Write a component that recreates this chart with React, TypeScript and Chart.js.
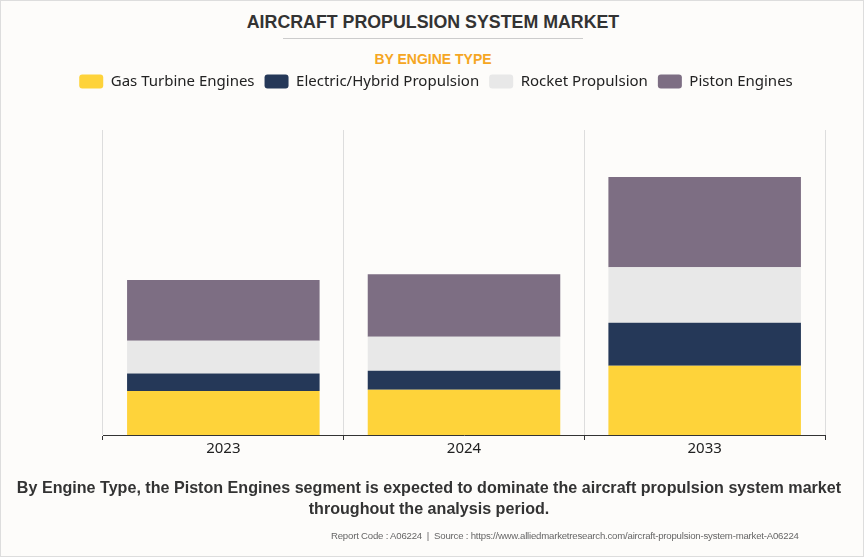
import React, { useEffect, useRef } from "react";
import { Chart, registerables } from "chart.js";

Chart.register(...registerables);

const categories = ["2023", "2024", "2033"];
const gasTurbine = [14.4, 14.8, 22.7];
const electricHybrid = [5.8, 6.3, 14.1];
const rocket = [10.7, 11.1, 18.2];
const piston = [19.9, 20.5, 29.6];

const seriesNames = ["Gas Turbine Engines", "Electric/Hybrid Propulsion", "Rocket Propulsion", "Piston Engines"];
const seriesColors = ["#FED33A", "#253858", "#E8E8E8", "#7D6E83"];

const TITLE = "AIRCRAFT PROPULSION SYSTEM MARKET";
const SUBTITLE = "BY ENGINE TYPE";
const NOTE = "By Engine Type, the Piston Engines segment is expected to dominate the aircraft propulsion system market throughout the analysis period.";
const FOOTER = "Report Code : A06224  |  Source : https://www.alliedmarketresearch.com/aircraft-propulsion-system-market-A06224";

const legendLayout = {
  id: "legendLayout",
  beforeInit(chart: any) {
    const legend = chart.legend;
    if (!legend) return;
    const orig = legend.fit;
    legend.fit = function () {
      this.maxWidth = chart.width;
      orig.call(this);
      this.height += 31;
    };
  },
  afterLayout(chart: any) {
    const legend = chart.legend;
    if (!legend) return;
    legend.left = 3;
    legend.right = chart.width + 3;
    legend.width = chart.width;
  },
};

export default function App() {
  const ref = useRef<HTMLCanvasElement | null>(null);

  useEffect(() => {
    document.body.style.margin = "0";
    const values = [gasTurbine, electricHybrid, rocket, piston];
    const chart = new Chart(ref.current as HTMLCanvasElement, {
      type: "bar",
      data: {
        labels: categories,
        datasets: values.map((v, i) => ({
          label: seriesNames[i],
          data: v,
          backgroundColor: seriesColors[i],
          borderWidth: 0,
          barPercentage: 1,
          categoryPercentage: 0.8,
        })),
      },
      options: {
        animation: false,
        responsive: false,
        maintainAspectRatio: false,
        layout: { padding: { top: 63, left: 102, right: 40, bottom: 100 } },
        plugins: {
          tooltip: { enabled: false },
          legend: {
            display: true,
            position: "top",
            labels: {
              boxWidth: 24,
              boxHeight: 14,
              padding: 10,
              useBorderRadius: true,
              borderRadius: 3,
              color: "#222",
              font: { family: "'Noto Sans', sans-serif", size: 15 },
            },
          },
        },
        scales: {
          x: {
            stacked: true,
            grid: { color: "#dddddd", tickColor: "#333", tickLength: 5, lineWidth: 1 },
            border: { color: "#333", width: 1 },
            ticks: { color: "#222", padding: 0, font: { family: "'Noto Sans', sans-serif", size: 15 } },
          },
          y: {
            stacked: true,
            display: false,
            min: 0,
            max: 100,
          },
        },
      },
      plugins: [legendLayout],
    });
    return () => chart.destroy();
  }, []);

  return (
    <div
      style={{
        position: "relative",
        width: 864,
        height: 557,
        background: "#FDFCFA",
        boxSizing: "border-box",
        border: "1px solid #dddddd",
        overflow: "hidden",
        fontFamily: "'Liberation Sans', Arial, sans-serif",
      }}
    >
      <div
        style={{
          position: "absolute",
          top: 10,
          left: 0,
          width: 864,
          textAlign: "center",
          fontWeight: "bold",
          fontSize: 17.8,
          color: "#333",
          lineHeight: "22px",
        }}
      >
        {TITLE}
      </div>
      <div style={{ position: "absolute", top: 37, left: 282, width: 300, height: 1, background: "#cccccc" }} />
      <div
        style={{
          position: "absolute",
          top: 49,
          left: 0,
          width: 864,
          textAlign: "center",
          fontWeight: "bold",
          fontSize: 14,
          color: "#F5A623",
          lineHeight: "18px",
        }}
      >
        {SUBTITLE}
      </div>
      <canvas ref={ref} width={864} height={557} style={{ position: "absolute", left: 0, top: 0, width: 864, height: 557 }} />
      <div
        style={{
          position: "absolute",
          top: 476,
          left: 0,
          width: 856,
          textAlign: "center",
          fontWeight: "bold",
          fontSize: 16.1,
          color: "#333",
          lineHeight: "21px",
        }}
      >
        {NOTE}
      </div>
      <div
        style={{
          position: "absolute",
          top: 528,
          left: 330,
          whiteSpace: "pre",
          fontSize: 9.6,
          letterSpacing: -0.2,
          color: "#666",
          lineHeight: "14px",
        }}
      >
        {FOOTER}
      </div>
    </div>
  );
}
